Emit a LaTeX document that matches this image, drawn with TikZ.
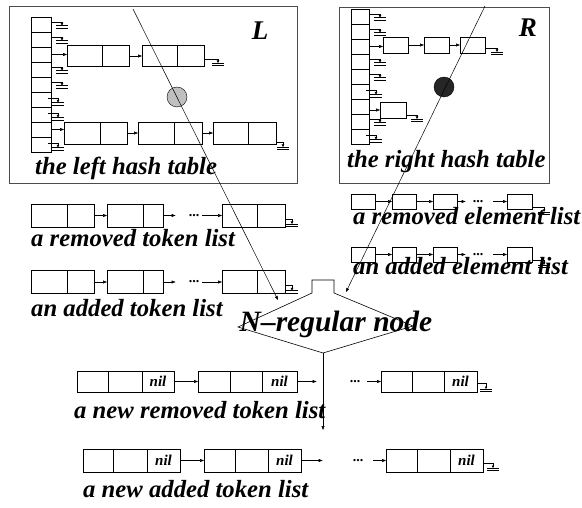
\documentclass[tikz,border=0pt]{standalone}
\usepackage{fontspec}
\setmainfont{Liberation Serif}[BoldFont={* Bold}, ItalicFont={* Italic}, BoldItalicFont={* Bold Italic}]
\usetikzlibrary{positioning,arrows.meta}

\tikzset{
  cell/.style={draw, inner sep=0pt, outer sep=0pt, line width=.6pt},
  hashframe/.style={draw=black!70, line width=1pt, inner sep=0pt},
  link/.style={-{Triangle[length=4pt,width=3pt]}, line width=.5pt},
  gtip/.style={-{Triangle[length=2.5pt,width=2.5pt]}, line width=.5pt},
  lbl/.style={font=\fontsize{24.7}{26}\selectfont\bfseries\itshape, inner sep=0pt, anchor=base west},
  tabletag/.style={font=\fontsize{27}{30}\selectfont\bfseries\itshape, inner sep=0pt, anchor=base},
  nilcell/.style={font=\fontsize{15}{16}\selectfont\bfseries\itshape},
  dotsym/.style={font=\fontsize{14}{14}\selectfont\bfseries, inner sep=0pt}
}

% ground: #1 name, #2 start point, #3 top of the bars
\newcommand{\earth}[3]{%
  \coordinate (#1) at #3;
  \draw[gtip] #2 -| (#1);
  \draw[line width=.6pt] ([xshift=-6pt]#1) -- ([xshift=6pt]#1)
    ([xshift=-6pt,yshift=-2.5pt]#1) -- ([xshift=6pt,yshift=-2.5pt]#1);
}

\begin{document}
\begin{tikzpicture}[x=1pt, y=-1pt]
\useasboundingbox (0,0) rectangle (582,508);

% left hash table
\node[hashframe, minimum width=288, minimum height=177, anchor=north west] (lht) at (9,6) {};
\foreach \i in {1,...,9}
  \node[cell, minimum width=20, minimum height=15] (lh\i) at (41,9.5+15*\i) {};
\foreach \i in {1,2,4,5} {\earth{lg\i}{([yshift=2pt]lh\i.east)}{([xshift=11pt,yshift=-1pt]lh\i.east)}}
\foreach \i in {6,7,9} {\earth{lg\i}{([xshift=-3pt,yshift=1pt]lh\i.east)}{([xshift=7pt,yshift=-3pt]lh\i.east)}}

\node[cell, minimum width=35, minimum height=21, anchor=west] (la1) at (67,56) {};
\node[cell, minimum width=27, minimum height=21, right=0pt of la1] (la2) {};
\node[cell, minimum width=35, minimum height=21, anchor=west] (lb1) at (142,56) {};
\node[cell, minimum width=27, minimum height=21, right=0pt of lb1] (lb2) {};
\draw[link] (lh3.east) -- (lh3.east -| la1.west);
\draw[link] (la2) -- (lb1);
\earth{lg3}{([yshift=-3pt]lb2.east)}{([xshift=14pt,yshift=-7pt]lb2.east)}

\node[cell, minimum width=36, minimum height=22, anchor=west] (lc1) at (64,133) {};
\node[cell, minimum width=27, minimum height=22, right=0pt of lc1] (lc2) {};
\node[cell, minimum width=36, minimum height=22, anchor=west] (ld1) at (138,133) {};
\node[cell, minimum width=28, minimum height=22, right=0pt of ld1] (ld2) {};
\node[cell, minimum width=35, minimum height=22, anchor=west] (le1) at (213,133) {};
\node[cell, minimum width=28, minimum height=22, right=0pt of le1] (le2) {};
\draw[link] (lh8.east) -- (lh8.east -| lc1.west);
\draw[link] (lc2) -- (ld1);
\draw[link] (ld2) -- (le1);
\earth{lg8}{([yshift=-9pt]le2.east)}{([xshift=7pt,yshift=-14pt]le2.east)}

\node[circle, draw, fill=black!25, minimum size=20, inner sep=0pt] (lhit) at (177,97) {};
\node[tabletag] (ltag) at (260,40) {L};
\node[lbl] (lname) at (35,175) {the left hash table};

% right hash table
\node[hashframe, minimum width=210, minimum height=176, anchor=north west] (rht) at (339,7) {};
\foreach \i in {1,...,9}
  \node[cell, minimum width=18, minimum height=15] (rh\i) at (360,1.5+15*\i) {};
\foreach \i in {1,2,4,5,8} {\earth{rg\i}{([yshift=2pt]rh\i.east)}{([xshift=11pt,yshift=-1pt]rh\i.east)}}
\foreach \i in {6,9} {\earth{rg\i}{([xshift=-3pt,yshift=1pt]rh\i.east)}{([xshift=7pt,yshift=-3pt]rh\i.east)}}

\node[cell, minimum width=25, minimum height=16, anchor=west] (ra) at (383,45) {};
\node[cell, minimum width=25, minimum height=16, anchor=west] (rb) at (424,45) {};
\node[cell, minimum width=25, minimum height=16, anchor=west] (rc) at (460,45) {};
\draw[link] (rh3.east) -- (rh3.east -| ra.west);
\draw[link] (ra) -- (rb);
\draw[link] (rb) -- (rc);
\earth{rg3}{([yshift=-3pt]rc.east)}{([xshift=12pt,yshift=-7pt]rc.east)}

\node[cell, minimum width=26, minimum height=16, anchor=west] (rd) at (380,110) {};
\draw[link] (rh7.east |- rd.west) -- (rd.west);
\earth{rg7}{([yshift=-5pt]rd.east)}{([xshift=11pt,yshift=-9pt]rd.east)}

\node[circle, draw, fill=black!85, minimum size=20, inner sep=0pt] (rhit) at (444,87) {};
\node[tabletag] (rtag) at (528,37) {R};
\node[lbl] (rname) at (347,168) {the right hash table};

% token lists
\node[cell, minimum width=36, minimum height=23, anchor=west] (ta1) at (31,215.5) {};
\node[cell, minimum width=27, minimum height=23, right=0pt of ta1] (ta2) {};
\node[cell, minimum width=36, minimum height=23, anchor=west] (tb1) at (107,215.5) {};
\node[cell, minimum width=20, minimum height=23, right=0pt of tb1] (tb2) {};
\node[dotsym] (tdots) at (194,215.5) {...};
\node[cell, minimum width=35, minimum height=23, anchor=west] (tc1) at (222,215.5) {};
\node[cell, minimum width=28, minimum height=23, right=0pt of tc1] (tc2) {};
\draw[link] (ta2) -- (tb1);
\draw[link, shorten >=13pt] (tb2) -- (tdots);
\draw[link, shorten <=3pt] (tdots) -- (tc1);
\earth{tg}{([yshift=-3.5pt]tc2.east)}{([xshift=7pt,yshift=-8.5pt]tc2.east)}
\node[lbl] (tname) at (31,247) {a removed token list};

\node[cell, minimum width=36, minimum height=23, anchor=west] (ua1) at (31,282) {};
\node[cell, minimum width=27, minimum height=23, right=0pt of ua1] (ua2) {};
\node[cell, minimum width=36, minimum height=23, anchor=west] (ub1) at (107,282) {};
\node[cell, minimum width=20, minimum height=23, right=0pt of ub1] (ub2) {};
\node[dotsym] (udots) at (194,282) {...};
\node[cell, minimum width=35, minimum height=23, anchor=west] (uc1) at (222,282) {};
\node[cell, minimum width=28, minimum height=23, right=0pt of uc1] (uc2) {};
\draw[link] (ua2) -- (ub1);
\draw[link, shorten >=13pt] (ub2) -- (udots);
\draw[link, shorten <=3pt] (udots) -- (uc1);
\earth{ug}{([yshift=-3.5pt]uc2.east)}{([xshift=7pt,yshift=-8.5pt]uc2.east)}
\node[lbl] (uname) at (31,317) {an added token list};

% element lists
\node[cell, minimum width=24, minimum height=15, anchor=west] (ea) at (351,201.5) {};
\node[cell, minimum width=24, minimum height=15, anchor=west] (eb) at (392,201.5) {};
\node[cell, minimum width=24, minimum height=15, anchor=west] (ec) at (433,201.5) {};
\node[dotsym] (edots) at (478,201.5) {...};
\node[cell, minimum width=25, minimum height=15, anchor=west] (ed) at (507,201.5) {};
\draw[link] (ea) -- (eb);
\draw[link] (eb) -- (ec);
\draw[link, shorten >=7pt] (ec) -- (edots);
\draw[link, shorten <=10pt] (edots) -- (ed);
\earth{eg}{([yshift=-5.5pt]ed.east)}{([xshift=12pt,yshift=-10.5pt]ed.east)}
\node[lbl] (ename) at (353,225) {a removed element list};

\node[cell, minimum width=24, minimum height=15, anchor=west] (fa) at (351,254.5) {};
\node[cell, minimum width=24, minimum height=15, anchor=west] (fb) at (392,254.5) {};
\node[cell, minimum width=24, minimum height=15, anchor=west] (fc) at (433,254.5) {};
\node[dotsym] (fdots) at (478,254.5) {...};
\node[cell, minimum width=25, minimum height=15, anchor=west] (fd) at (507,254.5) {};
\draw[link] (fa) -- (fb);
\draw[link] (fb) -- (fc);
\draw[link, shorten >=7pt] (fc) -- (fdots);
\draw[link, shorten <=10pt] (fdots) -- (fd);
\earth{fg}{([yshift=-5.5pt]fd.east)}{([xshift=12pt,yshift=-10.5pt]fd.east)}
\node[lbl] (fname) at (353,275) {an added element list};

% the N-regular node
\coordinate (nl) at (238,327);
\coordinate (nr) at (413,326);
\coordinate (nb) at (323,353);
\draw[line width=.6pt] (nl) -- (312,293) -- (312,280) -- (334,280) -- (334,293) -- (nr) -- (nb) -- cycle;
\node[font=\fontsize{29.5}{32}\selectfont\bfseries\itshape, inner sep=0pt, anchor=base] (nreg) at (336,332) {N\textendash regular node};

\coordinate (lsrc) at (133,9);
\coordinate (lend) at (278,300);
\draw[link] (lsrc) -- (lend);
\coordinate (rsrc) at (485,6);
\coordinate (rend) at (346,292);
\draw[link] (rsrc) -- (rend);
\coordinate (nout) at (323,430);
\draw[link] (nb) -- (nout);

% new token lists
\node[cell, minimum width=31, minimum height=21, anchor=west] (na1) at (77,381.5) {};
\node[cell, minimum width=34, minimum height=21, right=0pt of na1] (na2) {};
\node[cell, nilcell, minimum width=32, minimum height=21, right=0pt of na2] (na3) {nil};
\node[cell, minimum width=32, minimum height=21, anchor=west] (nb1) at (198,381.5) {};
\node[cell, minimum width=32, minimum height=21, right=0pt of nb1] (nb2) {};
\node[cell, nilcell, minimum width=35, minimum height=21, right=0pt of nb2] (nb3) {nil};
\node[dotsym] (ndots) at (355,381.5) {...};
\node[cell, minimum width=31, minimum height=21, anchor=west] (nc1) at (381,381.5) {};
\node[cell, minimum width=32, minimum height=21, right=0pt of nc1] (nc2) {};
\node[cell, nilcell, minimum width=33, minimum height=21, right=0pt of nc2] (nc3) {nil};
\draw[link] (na3) -- (nb1);
\draw[link, shorten >=33pt] (nb3) -- (ndots);
\draw[link, shorten <=7pt] (ndots) -- (nc1);
\earth{ng}{([yshift=-1.5pt]nc3.east)}{([xshift=9pt,yshift=-7.5pt]nc3.east)}
\node[lbl] (nname) at (74,418) {a new removed token list};

\node[cell, minimum width=30, minimum height=23, anchor=west] (ma1) at (83,460.5) {};
\node[cell, minimum width=34, minimum height=23, right=0pt of ma1] (ma2) {};
\node[cell, nilcell, minimum width=33, minimum height=23, right=0pt of ma2] (ma3) {nil};
\node[cell, minimum width=31, minimum height=23, anchor=west] (mb1) at (204,460.5) {};
\node[cell, minimum width=33, minimum height=23, right=0pt of mb1] (mb2) {};
\node[cell, nilcell, minimum width=33, minimum height=23, right=0pt of mb2] (mb3) {nil};
\node[dotsym] (mdots) at (358,460.5) {...};
\node[cell, minimum width=31, minimum height=23, anchor=west] (mc1) at (386,460.5) {};
\node[cell, minimum width=33, minimum height=23, right=0pt of mc1] (mc2) {};
\node[cell, nilcell, minimum width=33, minimum height=23, right=0pt of mc2] (mc3) {nil};
\draw[link] (ma3) -- (mb1);
\draw[link, shorten >=30pt] (mb3) -- (mdots);
\draw[link, shorten <=10pt] (mdots) -- (mc1);
\earth{mg}{([yshift=-2.5pt]mc3.east)}{([xshift=10pt,yshift=-7.5pt]mc3.east)}
\node[lbl] (mname) at (83,497) {a new added token list};
\end{tikzpicture}
\end{document}
